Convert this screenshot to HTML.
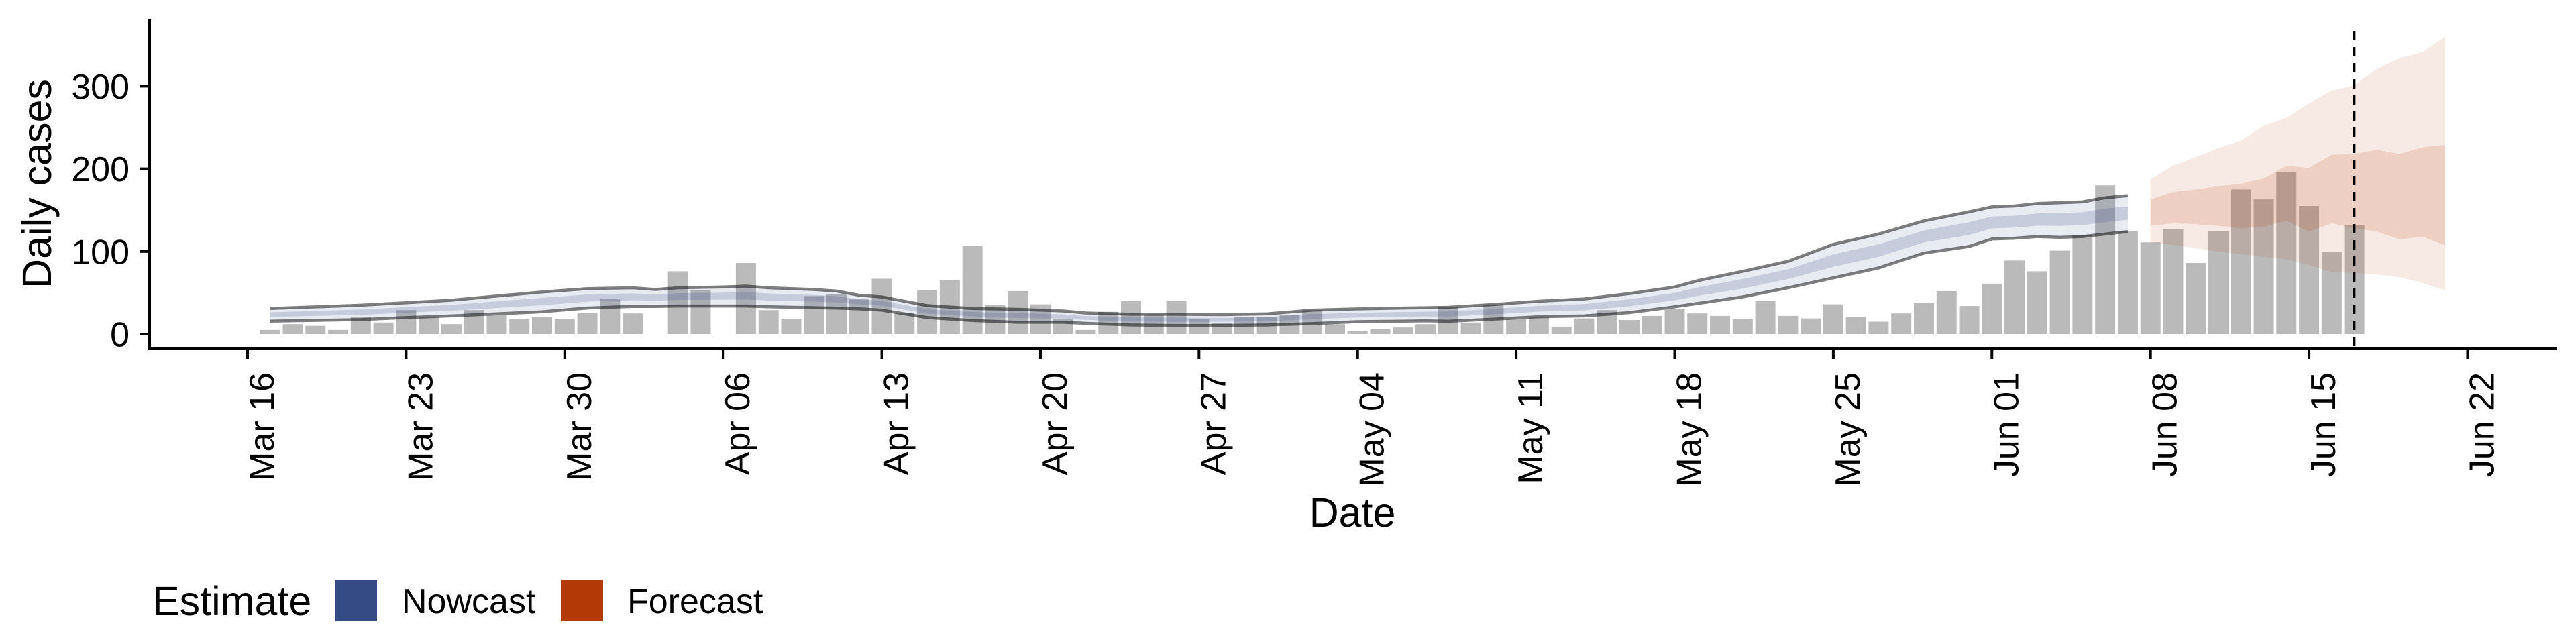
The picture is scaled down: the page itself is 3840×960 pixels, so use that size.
<!DOCTYPE html>
<html><head><meta charset="utf-8"><style>
html,body{margin:0;padding:0;background:#fff;}
svg{display:block;font-family:"Liberation Sans",Arial,sans-serif;}
</style></head><body>
<svg id="chart" width="3840" height="960" viewBox="0 0 3840 960" xmlns="http://www.w3.org/2000/svg">
<g id="plot"></g>
<g id="axes"></g>
<text transform="translate(76,274) rotate(-90)" text-anchor="middle" font-size="61">Daily cases</text>
<text x="2016" y="785" text-anchor="middle" font-size="61">Date</text>
<g>
<text x="227" y="917" font-size="61">Estimate</text>
<rect x="500" y="864" width="62" height="62" fill="#344B85"/>
<text x="599" y="914" font-size="52">Nowcast</text>
<rect x="837" y="864" width="62" height="62" fill="#B33A06"/>
<text x="935" y="914" font-size="52">Forecast</text>
</g>
</svg>
<script>
// ---- data ----
const caseValues = [5,12,10,5,21,14,29,21,12,29, 23,18,21,18,26,43,25,0,76,53, 0,86,29,18,46,48,42,67,26,53, 65,107,35,52,36,18,5,27,40,24, 40,18,13,21,21,23,29,12,4,6, 8,12,33,14,36,18,21,9,19,29, 17,22,30,25,22,18,40,22,19,36, 21,15,25,38,52,34,61,89,76,101, 120,180,125,111,127,86,125,175,163,196, 155,99,132];
const nowDays = [1,5,7,9,11,13,15,17,18,19,21,22,23,25,26,27,28,30,32,34,36,37,39,41,43,45,47,49,51,52,53,55,57,59,61,63,64,66,68,70,72,74,76,77,78,79,80,81,82,83];
const nowUpper90 = [31,35,38,41,46,51,55,56,54,56,57,58,56,54,52,47,45,34.5,31,30,28,25.6,24,24,23.5,24.5,29,30.5,31.6,32,32.5,35.8,39.8,42.5,49,57,64.6,76,88,108.6,121,137,148,154,155,158,159,160,165,167.5];
const nowLower90 = [15.6,17.5,20,22,24.5,27,31.6,33.5,33.5,34,34,34,33,32,31.5,30.5,29,20,16.5,14.3,14.3,13,11,10.3,10.5,11,12.7,15,15.6,16,15.5,18,21,22,26,33,37,45,56,68,80,98,106,115,116,118,117,118,121,124];
const nowUpper50 = [26.4,29.8,32.6,35.3,39.5,43.8,48,49.3,47.9,49.4,50.1,50.8,49.1,47.4,45.9,42.1,40.2,30.2,26.7,25.3,23.9,21.8,20.1,19.9,19.6,20.5,24.1,25.9,26.8,27.2,27.4,30.5,34.2,36.4,42.1,49.8,56.3,66.7,78.4,96.4,108.7,125.3,135.4,142.3,143.3,146,146.4,147.4,151.8,154.5];
const nowLower50 = [20.7,23.3,25.9,28.3,31.6,34.9,39.3,40.9,40.3,41.3,41.6,41.9,40.6,39.3,38.3,35.9,34.3,24.8,21.3,19.5,18.8,17.2,15.3,14.8,14.8,15.5,18.1,20.1,20.9,21.3,21.1,23.9,27.2,28.8,33.6,40.9,46.1,55.2,66.6,81.4,93.5,110.9,119.9,127.9,128.9,131.2,130.9,131.9,135.5,138.4];
const foreDays = [84,85,86,87,88,89,90,91,92,93,94,95,96,97];
const foreUpper90 = [187,204,214,225,234,252,262,279,295,301,321,334,341,360];
const foreUpper50 = [163,172,175,179,182,188,204,201,217,218,223,218,226,229];
const foreLower50 = [131,134,133,131,128,130,137,124,134,128,124,114.5,118,107.5];
const foreLower90 = [111,108,104,100,96.5,93.6,90.7,83.5,75,74,72,69,62,53];
const xTickLabels = ["Mar 16","Mar 23","Mar 30","Apr 06","Apr 13","Apr 20","Apr 27","May 04","May 11","May 18","May 25","Jun 01","Jun 08","Jun 15","Jun 22"];
const yTickValues = [0,100,200,300];
const dataDate = 93;

// ---- scales ----
const X0 = 369, DAY = 33.77, Y0 = 498, PER = 1.232;
const xs = d => X0 + d * DAY;
const ys = v => Y0 - v * PER;
const NS = "http://www.w3.org/2000/svg";
const plot = document.getElementById('plot');
const axes = document.getElementById('axes');
function mk(tag, parent, attrs) {
  const e = document.createElementNS(NS, tag);
  for (const k in attrs) e.setAttribute(k, attrs[k]);
  parent.appendChild(e);
  return e;
}

// bars
caseValues.forEach((v, i) => {
  if (v <= 0) return;
  const d = i + 1;
  const r = mk('rect', plot, {x: xs(d) - 15, y: ys(v), width: 30, height: v * PER, fill: '#BABABA'});
  
  
});

function ribbon(days, up, lo, fill, op, name) {
  const pts = [];
  days.forEach((d, i) => pts.push(xs(d).toFixed(1) + ',' + ys(up[i]).toFixed(1)));
  for (let i = days.length - 1; i >= 0; i--) pts.push(xs(days[i]).toFixed(1) + ',' + ys(lo[i]).toFixed(1));
  const p = mk('polygon', plot, {points: pts.join(' '), fill: fill, 'fill-opacity': op});
  
  
}
function line(days, vals, name) {
  const pts = days.map((d, i) => xs(d).toFixed(1) + ',' + ys(vals[i]).toFixed(1)).join(' ');
  const l = mk('polyline', plot, {points: pts, fill: 'none', stroke: '#000', 'stroke-opacity': 0.5, 'stroke-width': 4.5, 'stroke-linejoin': 'round'});
  
  
}
ribbon(nowDays, nowUpper90, nowLower90, '#344B85', 0.11, 'nowcast-90-ribbon');
ribbon(nowDays, nowUpper50, nowLower50, '#344B85', 0.19, 'nowcast-50-ribbon');
ribbon(foreDays, foreUpper90, foreLower90, '#B83C0A', 0.11, 'forecast-90-ribbon');
ribbon(foreDays, foreUpper50, foreLower50, '#B83C0A', 0.15, 'forecast-50-ribbon');
line(nowDays, nowUpper90, 'nowcast-upper-line');
line(nowDays, nowLower90, 'nowcast-lower-line');

// dashed data-date line
const dl = mk('line', plot, {x1: xs(dataDate), x2: xs(dataDate), y1: 46, y2: 520, stroke: '#000', 'stroke-width': 3.5, 'stroke-dasharray': '14,10'});



// axes
const ya = mk('line', axes, {x1: 223, x2: 223, y1: 29, y2: 522, stroke: '#000', 'stroke-width': 4});


const xa = mk('line', axes, {x1: 221, x2: 3811, y1: 520, y2: 520, stroke: '#000', 'stroke-width': 4});



yTickValues.forEach(v => {
  const t = mk('line', axes, {x1: 209, x2: 223, y1: ys(v), y2: ys(v), stroke: '#000', 'stroke-width': 4});
  
  
  const l = mk('text', axes, {x: 193, y: ys(v) + 18.5, 'text-anchor': 'end', 'font-size': 52, fill: '#000'});
  l.textContent = String(v);
  
  
});
xTickLabels.forEach((lab, i) => {
  const x = xs(i * 7);
  const t = mk('line', axes, {x1: x, x2: x, y1: 520, y2: 535, stroke: '#000', 'stroke-width': 4});
  
  
  const l = mk('text', axes, {transform: 'translate(' + (x + 39).toFixed(1) + ',555) rotate(-90)', 'text-anchor': 'end', 'font-size': 52, fill: '#000'});
  l.textContent = lab;
  
  
});
</script>
</body></html>
